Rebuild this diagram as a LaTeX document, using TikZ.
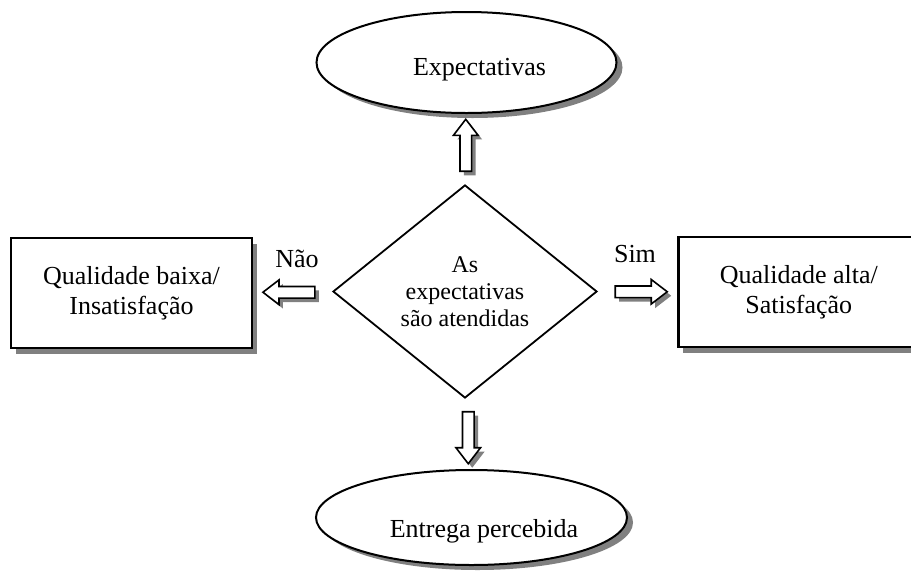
\documentclass[tikz,border=0pt]{standalone}
\usepackage{fontspec}
\setmainfont{Liberation Serif}
\usetikzlibrary{shapes.geometric,shapes.arrows,shadows,calc}

\begin{document}
\begin{tikzpicture}[
		x=0.5pt, y=-0.5pt,
		sombra/.style={drop shadow={shadow xshift=3pt, shadow yshift=-2.5pt,
				fill=black!50, opacity=1}},
		elipse/.style={ellipse, draw=black, fill=white, line width=1pt,
			inner sep=0pt, sombra},
		caixa/.style={rectangle, draw=black, fill=white, line width=1.3pt,
			minimum width=120.5pt, minimum height=55pt, align=center,
			font=\fontsize{13}{15}\selectfont,
			drop shadow={shadow xshift=2.5pt, shadow yshift=-3pt,
				fill=black!50, opacity=1}},
		losango/.style={diamond, draw=black, fill=white, line width=0.9pt,
			aspect=1.24, inner sep=0pt, minimum width=132pt,
			minimum height=106.5pt, align=center,
			font=\fontsize{12}{13.5}\selectfont},
		seta/.style={single arrow, draw=black, fill=white, line width=0.8pt,
			inner sep=2.5pt, minimum height=26pt,
			single arrow head extend=3.25pt, single arrow tip angle=75,
			drop shadow={shadow xshift=2pt, shadow yshift=-2pt,
				fill=black!50, opacity=1}},
		texto/.style={font=\fontsize{13}{15}\selectfont, inner sep=0pt},
		rotulo/.style={texto, anchor=base}]
	
	%% --- area visivel ---
	\path[use as bounding box, clip] (0,0) rectangle (911,579);
	
	%% --- pergunta central ---
	\node[losango] (cond) at (465,291.5) {As\\expectativas\\são atendidas};
	
	%% --- elipses (texto um pouco deslocado, como no original) ---
	\node[elipse, minimum width=150pt, minimum height=50.5pt,
		label={[texto, xshift=6.5pt, yshift=-3.75pt]center:Expectativas}]
		(expect) at (466.5,62.5) {};
	\node[elipse, minimum width=155.5pt, minimum height=47.5pt,
		label={[texto, xshift=6.25pt, yshift=-6.75pt]center:Entrega percebida}]
		(entrega) at (471.5,517.5) {};
	
	%% --- caixas laterais (a direita sai da pagina) ---
	\node[caixa] (baixa) at (131.5,293) {Qualidade baixa/\\Insatisfação};
	\node[caixa, anchor=west, minimum width=150pt,
		label={[texto, align=center, xshift=-14.75pt]center:Qualidade alta/\\Satisfação}]
		(alta) at (677,292) {};
	
	%% --- setas largas entre as formas ---
	\node[seta, shape border rotate=90]  (sobe)  at ($(cond.north)!0.5!(expect.south)$) {};
	\node[seta, shape border rotate=270] (desce) at ($(cond.south)!0.5!(entrega.north)$) {};
	\node[seta, shape border rotate=180] (nao)   at ($(cond.west)!0.5!(baixa.east)$) {};
	\node[seta]                          (sim)   at ($(cond.east)!0.5!(alta.west)$) {};
	
	%% --- respostas ---
	\node[rotulo] (lnao) at (297,267) {Não};
	\node[rotulo] (lsim) at (635,262) {Sim};
	
\end{tikzpicture}
\end{document}
